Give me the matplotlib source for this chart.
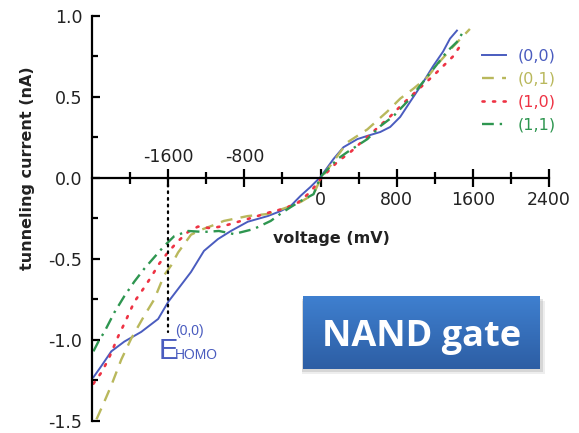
import numpy as np
import matplotlib
matplotlib.use("Agg")
import matplotlib.pyplot as plt
from matplotlib.patches import Rectangle

# tunneling current vs bias voltage for the 4 input states
blue_v = [-2385, -2301, -2197, -2061, -1883, -1705, -1600, -1496, -1360, -1224, -1077, -941, -764,
          -554, -418, -314, -209, -105, 0, 136, 241, 387, 492, 628, 732, 837, 941, 1077, 1182,
          1287, 1360, 1433]
blue_i = [-1.23, -1.16, -1.07, -1.01, -0.95, -0.87, -0.765, -0.685, -0.58, -0.45, -0.377, -0.327,
          -0.27, -0.235, -0.204, -0.173, -0.11, -0.055, 0.006, 0.117, 0.19, 0.24, 0.26, 0.284,
          0.315, 0.377, 0.47, 0.59, 0.69, 0.78, 0.86, 0.91]

yellow_v = [-2353, -2270, -2197, -2092, -1987, -1851, -1747, -1642, -1569, -1496, -1360, -1255,
            -1119, -1015, -764, -554, -345, -209, -73, 0, 178, 282, 492, 701, 837, 973, 1119,
            1255, 1391, 1569]
yellow_i = [-1.49, -1.38, -1.28, -1.12, -0.99, -0.85, -0.75, -0.60, -0.54, -0.46, -0.35, -0.32,
            -0.29, -0.265, -0.235, -0.222, -0.18, -0.148, -0.1, -0.006, 0.136, 0.22, 0.30, 0.41,
            0.49, 0.55, 0.62, 0.72, 0.81, 0.92]

red_v = [-2385, -2301, -2228, -2123, -2061, -1956, -1862, -1778, -1695, -1600, -1496, -1391, -1287,
         -1151, -1015, -764, -523, -387, -241, -105, 0, 178, 314, 523, 732, 868, 1015, 1182, 1287,
         1391, 1496]
red_i = [-1.27, -1.20, -1.12, -0.975, -0.90, -0.765, -0.685, -0.61, -0.53, -0.457, -0.39, -0.333,
         -0.30, -0.31, -0.296, -0.253, -0.21, -0.19, -0.154, -0.086, -0.006, 0.10, 0.16, 0.27,
         0.38, 0.46, 0.54, 0.63, 0.69, 0.75, 0.84]

green_v = [-2385, -2333, -2270, -2165, -2061, -1956, -1851, -1747, -1642, -1538, -1391, -1224,
           -1067, -910, -701, -523, -418, -314, -209, -73, 0, 178, 282, 492, 628, 763, 941, 1046,
           1182, 1328, 1433, 1496]
green_i = [-1.07, -1.01, -0.95, -0.83, -0.73, -0.64, -0.56, -0.49, -0.42, -0.36, -0.327, -0.333,
           -0.327, -0.346, -0.315, -0.265, -0.22, -0.18, -0.142, -0.1, 0.006, 0.117, 0.16, 0.24,
           0.32, 0.38, 0.49, 0.57, 0.67, 0.78, 0.84, 0.90]

labels = ["(0,0)", "(0,1)", "(1,0)", "(1,1)"]
colors = ["#4a5cbf", "#b9b85c", "#ee3344", "#2e9650"]

x_major = [-1600, -800, 0, 800, 1600, 2400]
x_minor = [-2000, -1200, -400, 400, 1200, 2000]
y_major = [-1.5, -1.0, -0.5, 0.0, 0.5, 1.0]
y_minor = [-1.25, -0.75, -0.25, 0.25, 0.75]
e_homo_v = -1600

W, H = 579, 433
fig = plt.figure(figsize=(W / 100, H / 100), dpi=100)
ax = fig.add_axes([92 / W, 1 - 421 / H, 457 / W, 405 / H])

ax.plot(blue_v, blue_i, color=colors[0], lw=1.4, ls="-", label=labels[0])
ax.plot(yellow_v, yellow_i, color=colors[1], lw=1.7, ls=(0, (5, 3.5)), label=labels[1])
ax.plot(red_v, red_i, color=colors[2], lw=1.9, ls=(0, (0.8, 3.2)), dash_capstyle="round",
        label=labels[2])
ax.plot(green_v, green_i, color=colors[3], lw=1.7, ls=(0, (5, 2.5, 1, 2.5)), label=labels[3])

# marker for E_HOMO
ax.plot([e_homo_v, e_homo_v], [0, -0.95], color="black", lw=1.6, ls=(0, (0.8, 2.2)),
        dash_capstyle="round")
ax.text(e_homo_v - 95, -1.12, "E", color=colors[0], fontsize=21, ha="left", va="baseline",
        family="Liberation Sans")
ax.text(e_homo_v + 75, -0.97, "(0,0)", color=colors[0], fontsize=10, ha="left", va="baseline",
        family="Liberation Sans")
ax.text(e_homo_v + 75, -1.12, "HOMO", color=colors[0], fontsize=10, ha="left", va="baseline",
        family="Liberation Sans")

ax.set_xlim(-2400, 2400)
ax.set_ylim(-1.5, 1.0)
ax.spines["top"].set_visible(False)
ax.spines["right"].set_visible(False)
ax.spines["bottom"].set_position(("data", 0))
for s in ["left", "bottom"]:
    ax.spines[s].set_linewidth(1.6)

ax.set_xticks(x_major)
ax.set_xticks(x_minor, minor=True)
ax.set_xticklabels(["" if v < 0 else str(v) for v in x_major])
ax.set_yticks(y_major)
ax.set_yticks(y_minor, minor=True)
ax.set_yticklabels([f"{v:.1f}" for v in y_major])

ax.tick_params(axis="x", which="major", direction="inout", length=13, width=1.6, pad=3,
               labelsize=12.5, labelcolor="#222222")
ax.tick_params(axis="x", which="minor", direction="inout", length=9, width=1.6)
ax.tick_params(axis="y", which="major", direction="in", length=6, width=1.6, pad=7,
               labelsize=12.5, labelcolor="#222222")
ax.tick_params(axis="y", which="minor", direction="in", length=4, width=1.6)

# negative voltage labels sit above the axis
for v in x_major:
    if v < 0:
        ax.annotate(str(v), xy=(v, 0), xytext=(0, 11.5), textcoords="offset points",
                    ha="center", va="baseline", fontsize=12.5, color="#222222")

ax.text(115, -0.375, "voltage (mV)", ha="center", va="center", fontsize=11.5,
        fontweight="bold", color="#222222")
fig.text(28 / W, 1 - 168 / H, "tunneling current (nA)", rotation=90, ha="center",
         va="center", fontsize=11.5, fontweight="bold", color="#222222")

leg = ax.legend(loc="center", bbox_to_anchor=(519 / W, 1 - 90.5 / H),
                bbox_transform=fig.transFigure, frameon=False, fontsize=11.5,
                handlelength=1.5, handletextpad=0.7, labelspacing=0.5, borderpad=0,
                labelcolor="linecolor")

# "NAND gate" box with gradient and drop shadow
bx0, by0, bx1, by1 = 303, 296, 540, 369
for k, a in [(5, 0.12), (3, 0.2)]:
    shadow = Rectangle(((bx0 - 1) / W, 1 - (by1 + k) / H), (bx1 - bx0 + 1 + k) / W,
                       (by1 - by0) / H, transform=fig.transFigure, facecolor="#777777",
                       alpha=a, lw=0, zorder=1)
    fig.patches.append(shadow)
bax = fig.add_axes([bx0 / W, 1 - by1 / H, (bx1 - bx0) / W, (by1 - by0) / H], zorder=5)
grad = np.linspace(0, 1, 64).reshape(-1, 1)
top = np.array([0x3f, 0x80, 0xd0]) / 255
bot = np.array([0x2d, 0x5e, 0xa4]) / 255
img = top[None, None, :] * (1 - grad[:, :, None]) + bot[None, None, :] * grad[:, :, None]
bax.imshow(img, aspect="auto", extent=(0, 1, 0, 1))
bax.set_axis_off()
bax.text(0.5, 0.5, "NAND gate", ha="center", va="center_baseline", color="white",
         fontsize=26, fontweight="bold", family="Open Sans", transform=bax.transAxes)

fig.savefig("out.png", dpi=100)
